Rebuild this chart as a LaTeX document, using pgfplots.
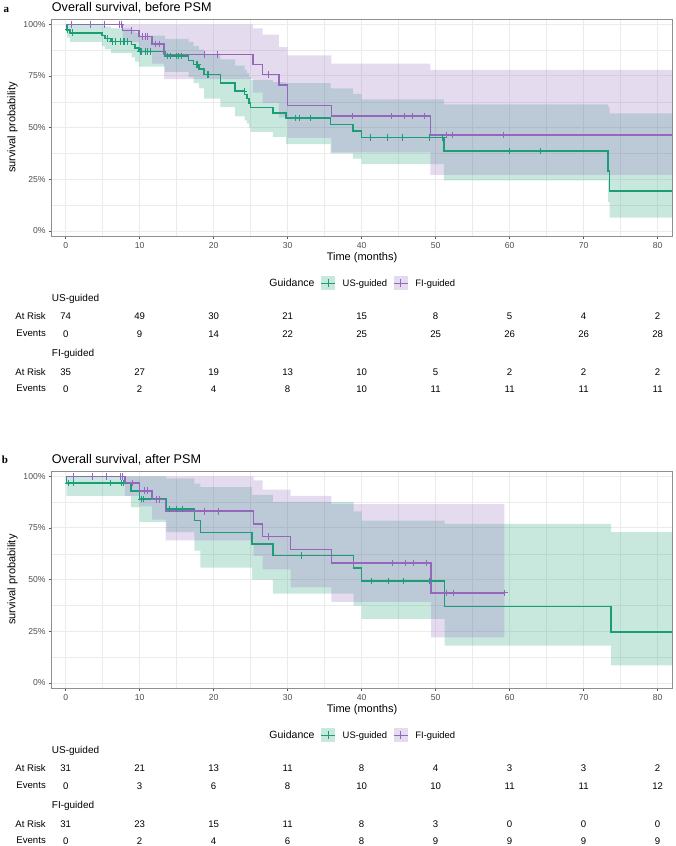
\documentclass[border=0pt]{standalone}
\usepackage{fontspec}
\setmainfont{Liberation Sans}
\newfontfamily\panelfont{Liberation Serif}
\usepackage{pgfplots}
\pgfplotsset{compat=1.18}
\usepackage{pgfplotstable}

\definecolor{usgreen}{HTML}{1B9E77}
\definecolor{fipurple}{HTML}{9467BD}
\definecolor{gridgray}{HTML}{EBEBEB}
\definecolor{framegray}{HTML}{8F8F8F}
\definecolor{tickgray}{HTML}{4D4D4D}
\definecolor{tickmark}{HTML}{555555}
\colorlet{usgreenkey}{usgreen!24!white}
\colorlet{fipurplekey}{fipurple!24!white}

% ---------- before PSM ----------
% Kaplan-Meier steps (time, survival)
\pgfplotstableread{
t     S
0     1
0.15  0.973
0.6   0.959
4.9   0.945
5.3   0.932
6.1   0.918
8.9   0.903
9.4   0.886
9.9   0.868
13.4  0.847
16.6  0.826
17.3  0.805
18.0  0.784
18.7  0.757
20.9  0.716
22.9  0.677
24.2  0.660
24.5  0.640
24.8  0.620
25.0  0.598
28.0  0.572
29.8  0.547
35.8  0.516
38.8  0.484
40.0  0.453
51.1  0.387
73.3  0.290
73.5  0.194
82    0.194
}\usA
% 95% band outline: upper limits left to right, then lower limits back
\pgfplotstableread{
t     y
0     1
0.15  1
0.6   1
4.9   0.995
5.3   0.99
6.1   0.98
8.9   0.97
9.4   0.96
9.9   0.945
13.4  0.93
16.6  0.915
17.3  0.895
18.0  0.878
18.7  0.855
20.9  0.83
22.9  0.80
24.2  0.78
24.5  0.765
24.8  0.745
25.0  0.73
28.0  0.72
29.8  0.715
35.8  0.69
38.8  0.663
40.0  0.637
51.1  0.613
73.3  0.60
73.5  0.569
82    0.569
82    0.065
73.5  0.14
73.3  0.245
51.1  0.323
40.0  0.35
38.8  0.375
35.8  0.42
29.8  0.455
28.0  0.48
25.0  0.50
24.8  0.52
24.5  0.535
24.2  0.555
22.9  0.60
20.9  0.64
18.7  0.69
18.0  0.715
17.3  0.745
16.6  0.77
13.4  0.795
9.9   0.82
9.4   0.84
8.9   0.86
6.1   0.88
5.3   0.895
4.9   0.915
0.6   0.935
0.15  1
0     1
}\usAband
\pgfplotstableread{
t     S
0     1
7.7   0.970
9.9   0.940
11.7  0.905
13.3  0.853
25.3  0.805
26.6  0.757
28.8  0.707
30.0  0.607
35.9  0.556
49.3  0.464
82    0.464
}\fiA
\pgfplotstableread{
t     y
0     1
7.7   1
9.9   1
11.7  1
13.3  1
25.3  0.98
26.6  0.95
28.8  0.89
30.0  0.85
35.9  0.81
49.3  0.779
82    0.779
82    0.272
49.3  0.381
35.9  0.45
30.0  0.55
28.8  0.62
26.6  0.67
25.3  0.735
13.3  0.81
11.7  0.86
9.9   0.915
7.7   1
0     1
}\fiAband
% censored observations
\pgfplotstableread{
t     S
0.3   0.973
0.9   0.959
5.6   0.932
6.3   0.918
6.7   0.918
7.4   0.918
7.8   0.918
8.0   0.918
8.3   0.918
10.1  0.868
10.3  0.868
10.8  0.868
11.0  0.868
11.4  0.868
13.7  0.847
14.2  0.847
14.9  0.847
15.2  0.847
15.6  0.847
17.6  0.805
17.8  0.805
19.1  0.757
19.3  0.757
24.1  0.677
31.0  0.547
31.6  0.547
33.1  0.547
41.2  0.453
43.5  0.453
45.5  0.453
49.1  0.453
50.9  0.453
59.9  0.387
64.2  0.387
}\usAcens
\pgfplotstableread{
t     S
0.8   1
3.3   1
5.3   1
7.3   1
7.5   1
8.9   0.970
10.4  0.940
10.8  0.940
11.1  0.940
12.1  0.905
12.6  0.905
18.7  0.853
20.5  0.853
27.4  0.757
38.7  0.556
44.0  0.556
45.8  0.556
46.9  0.556
48.5  0.556
51.4  0.464
52.3  0.464
59.1  0.464
}\fiAcens

% ---------- after PSM ----------
\pgfplotstableread{
t     S
0     1
0.1   0.968
8.8   0.929
10.0  0.890
13.6  0.842
17.4  0.785
18.2  0.729
25.2  0.673
28.0  0.616
38.9  0.556
40.0  0.494
51.2  0.370
73.7  0.247
82    0.247
}\usB
\pgfplotstableread{
t     y
0     1
0.1   1
8.8   1
10.0  1
13.6  0.99
17.4  0.965
18.2  0.948
25.2  0.91
28.0  0.876
38.9  0.83
40.0  0.785
51.2  0.77
73.7  0.73
82    0.73
82    0.085
73.7  0.181
51.2  0.31
40.0  0.374
38.9  0.432
28.0  0.50
25.2  0.558
18.2  0.64
17.4  0.73
13.6  0.78
10.0  0.85
8.8   0.905
0.1   1
0     1
}\usBband
\pgfplotstableread{
t     S
0     1
8.0   0.967
10.0  0.930
11.7  0.888
13.5  0.831
25.4  0.770
26.6  0.710
30.4  0.645
35.9  0.581
49.4  0.436
59.3  0.436
}\fiB
\pgfplotstableread{
t     y
0     1
8.0   1
10.0  1
11.7  1
13.5  1
25.4  0.98
26.6  0.935
30.4  0.905
35.9  0.866
49.4  0.866
59.3  0.866
59.3  0.221
49.4  0.392
35.9  0.463
30.4  0.55
26.6  0.615
25.4  0.69
13.5  0.79
11.7  0.855
10.0  0.905
8.0   1
0     1
}\fiBband
\pgfplotstableread{
t     S
0.4   0.968
1.1   0.968
6.0   0.968
7.5   0.968
7.8   0.968
10.2  0.890
10.5  0.890
14.0  0.842
15.0  0.842
15.8  0.842
31.8  0.616
41.3  0.494
43.6  0.494
45.7  0.494
49.2  0.494
}\usBcens
\pgfplotstableread{
t     S
1.0   1
3.6   1
5.5   1
7.4   1
7.7   1
9.0   0.967
10.7  0.930
11.1  0.930
12.2  0.888
12.7  0.888
18.8  0.831
20.6  0.831
27.4  0.710
38.9  0.581
44.2  0.581
45.9  0.581
47.0  0.581
48.7  0.581
51.5  0.436
52.4  0.436
59.3  0.436
}\fiBcens

\pgfplotsset{
  kmaxis/.style={
    width=620.6pt, height=216.7pt, scale only axis,
    xmin=-1.888, xmax=81.98, ymin=-0.0242, ymax=1.0242,
    xtick={0,10,...,80}, minor xtick={5,15,...,75},
    ytick={0,0.25,0.5,0.75,1},
    yticklabels={0\%,25\%,50\%,75\%,100\%},
    minor ytick={0.125,0.375,0.625,0.875},
    xtick pos=bottom, ytick pos=left,
    grid=both,
    major grid style={gridgray, line width=1pt},
    minor grid style={gridgray, line width=0.5pt},
    axis line style={framegray, line width=1pt},
    tick align=outside, major tick length=2.7pt, minor tick length=0pt,
    major tick style={tickmark, line width=0.8pt},
    ticklabel style={font=\fontsize{8.6}{10}\selectfont, text=tickgray},
    /pgf/number format/assume math mode=true,
    xlabel={Time (months)}, ylabel={survival probability},
    label style={font=\fontsize{11}{13}\selectfont},
    xlabel style={at={(axis description cs:0.5,-0.101)}, anchor=center},
    ylabel style={at={(axis description cs:-0.063,0.5)}, anchor=center},
    legend style={draw=none, fill=none, inner sep=0pt, anchor=west,
      legend columns=3, font=\fontsize{9.4}{11}\selectfont,
      nodes={inner sep=0pt, anchor=base},
      /tikz/every odd column/.style={column sep=7.2pt},
      /tikz/every even column/.style={column sep=6.2pt}},
  },
  band/.style={const plot, draw=none, forget plot, fill opacity=0.24},
  kmline/.style={const plot, line width=1.5pt, forget plot, mark=none},
  censor/.style={only marks, mark=+, mark size=3.3pt, forget plot,
    mark options={line width=0.8pt}},
  keyimg/.style 2 args={legend image code/.code={
      \path[draw=none, fill=#2] (0pt,-3.6pt) rectangle (14pt,10.4pt);
      \path[draw=#1, line width=0.9pt] (0pt,3.4pt) -- (14pt,3.4pt);
      \path[draw=#1, line width=0.9pt] (7pt,-0.6pt) -- (7pt,7.4pt);}},
  risktab/.style={
    width=620.6pt, scale only axis, hide axis, clip=false,
    xmin=-1.888, xmax=81.98, y dir=reverse,
  },
  risknums/.style={draw=none, mark=none, nodes near coords,
    point meta=explicit symbolic,
    every node near coord/.append style={anchor=center, inner sep=0pt,
      font=\fontsize{9.6}{11}\selectfont, text=black}},
}

\newcommand{\tabfont}{\fontsize{9.6}{11}\selectfont}
\newcommand{\stratafont}{\fontsize{10}{12}\selectfont}

\begin{document}
\begin{tikzpicture}
\path[use as bounding box] (0pt,0pt) rectangle (676pt,-846pt);

% ---------------- panel a ----------------
\node[anchor=base west, inner sep=0pt, font=\panelfont\bfseries\fontsize{11}{13}\selectfont] at (3.3pt,-12.8pt) {a};
\node[anchor=base west, inner sep=0pt, font=\fontsize{12.6}{15}\selectfont] at (51.7pt,-11.7pt) {Overall survival, before PSM};

\begin{axis}[kmaxis, at={(51.7pt,-236pt)}, anchor=south west,
  legend style={at={(axis description cs:0.339,-0.217)}}]
  \addplot[band, fill=usgreen] table[x=t, y=y] {\usAband};
  \addplot[band, fill=fipurple] table[x=t, y=y] {\fiAband};
  \addplot[kmline, usgreen] table[x=t, y=S] {\usA};
  \addplot[kmline, fipurple] table[x=t, y=S] {\fiA};
  \addplot[censor, usgreen] table[x=t, y=S] {\usAcens};
  \addplot[censor, fipurple] table[x=t, y=S] {\fiAcens};
  \addlegendimage{empty legend}
  \addlegendentry{\fontsize{10.5}{12}\selectfont Guidance}
  \addlegendimage{keyimg={usgreen}{usgreenkey}}
  \addlegendentry{US-guided}
  \addlegendimage{keyimg={fipurple}{fipurplekey}}
  \addlegendentry{FI-guided}
\end{axis}

\begin{axis}[risktab, at={(51.7pt,-400pt)}, anchor=south west, height=164pt, ymin=236, ymax=400]
  \addplot[risknums] coordinates {(0,315.8)[74] (10,315.8)[49] (20,315.8)[30] (30,315.8)[21] (40,315.8)[15] (50,315.8)[8] (60,315.8)[5] (70,315.8)[4] (80,315.8)[2]};
  \addplot[risknums] coordinates {(0,333.7)[0] (10,333.7)[9] (20,333.7)[14] (30,333.7)[22] (40,333.7)[25] (50,333.7)[25] (60,333.7)[26] (70,333.7)[26] (80,333.7)[28]};
  \addplot[risknums] coordinates {(0,371.8)[35] (10,371.8)[27] (20,371.8)[19] (30,371.8)[13] (40,371.8)[10] (50,371.8)[5] (60,371.8)[2] (70,371.8)[2] (80,371.8)[2]};
  \addplot[risknums] coordinates {(0,388.7)[0] (10,388.7)[2] (20,388.7)[4] (30,388.7)[8] (40,388.7)[10] (50,388.7)[11] (60,388.7)[11] (70,388.7)[11] (80,388.7)[11]};
  \node[anchor=base west, inner sep=0pt, font=\stratafont] at (axis cs:-1.888,301) {US-guided};
  \node[anchor=base west, inner sep=0pt, font=\stratafont] at (axis cs:-1.888,356) {FI-guided};
  \node[anchor=east, inner sep=0pt, font=\tabfont] at (axis cs:-2.658,315.8) {At Risk};
  \node[anchor=east, inner sep=0pt, font=\tabfont] at (axis cs:-2.658,333.7) {Events};
  \node[anchor=east, inner sep=0pt, font=\tabfont] at (axis cs:-2.658,371.8) {At Risk};
  \node[anchor=east, inner sep=0pt, font=\tabfont] at (axis cs:-2.658,388.7) {Events};
\end{axis}

% ---------------- panel b ----------------
\node[anchor=base west, inner sep=0pt, font=\panelfont\bfseries\fontsize{11}{13}\selectfont] at (1.7pt,-463pt) {b};
\node[anchor=base west, inner sep=0pt, font=\fontsize{12.6}{15}\selectfont] at (51.7pt,-463.7pt) {Overall survival, after PSM};

\begin{axis}[kmaxis, at={(51.7pt,-688pt)}, anchor=south west,
  legend style={at={(axis description cs:0.339,-0.217)}}]
  \addplot[band, fill=usgreen] table[x=t, y=y] {\usBband};
  \addplot[band, fill=fipurple] table[x=t, y=y] {\fiBband};
  \addplot[kmline, usgreen] table[x=t, y=S] {\usB};
  \addplot[kmline, fipurple] table[x=t, y=S] {\fiB};
  \addplot[censor, usgreen] table[x=t, y=S] {\usBcens};
  \addplot[censor, fipurple] table[x=t, y=S] {\fiBcens};
  \addlegendimage{empty legend}
  \addlegendentry{\fontsize{10.5}{12}\selectfont Guidance}
  \addlegendimage{keyimg={usgreen}{usgreenkey}}
  \addlegendentry{US-guided}
  \addlegendimage{keyimg={fipurple}{fipurplekey}}
  \addlegendentry{FI-guided}
\end{axis}

\begin{axis}[risktab, at={(51.7pt,-846pt)}, anchor=south west, height=158pt, ymin=688, ymax=846]
  \addplot[risknums] coordinates {(0,767.8)[31] (10,767.8)[21] (20,767.8)[13] (30,767.8)[11] (40,767.8)[8] (50,767.8)[4] (60,767.8)[3] (70,767.8)[3] (80,767.8)[2]};
  \addplot[risknums] coordinates {(0,785.7)[0] (10,785.7)[3] (20,785.7)[6] (30,785.7)[8] (40,785.7)[10] (50,785.7)[10] (60,785.7)[11] (70,785.7)[11] (80,785.7)[12]};
  \addplot[risknums] coordinates {(0,823.8)[31] (10,823.8)[23] (20,823.8)[15] (30,823.8)[11] (40,823.8)[8] (50,823.8)[3] (60,823.8)[0] (70,823.8)[0] (80,823.8)[0]};
  \addplot[risknums] coordinates {(0,840.7)[0] (10,840.7)[2] (20,840.7)[4] (30,840.7)[6] (40,840.7)[8] (50,840.7)[9] (60,840.7)[9] (70,840.7)[9] (80,840.7)[9]};
  \node[anchor=base west, inner sep=0pt, font=\stratafont] at (axis cs:-1.888,753) {US-guided};
  \node[anchor=base west, inner sep=0pt, font=\stratafont] at (axis cs:-1.888,808) {FI-guided};
  \node[anchor=east, inner sep=0pt, font=\tabfont] at (axis cs:-2.658,767.8) {At Risk};
  \node[anchor=east, inner sep=0pt, font=\tabfont] at (axis cs:-2.658,785.7) {Events};
  \node[anchor=east, inner sep=0pt, font=\tabfont] at (axis cs:-2.658,823.8) {At Risk};
  \node[anchor=east, inner sep=0pt, font=\tabfont] at (axis cs:-2.658,840.7) {Events};
\end{axis}
\end{tikzpicture}
\end{document}
